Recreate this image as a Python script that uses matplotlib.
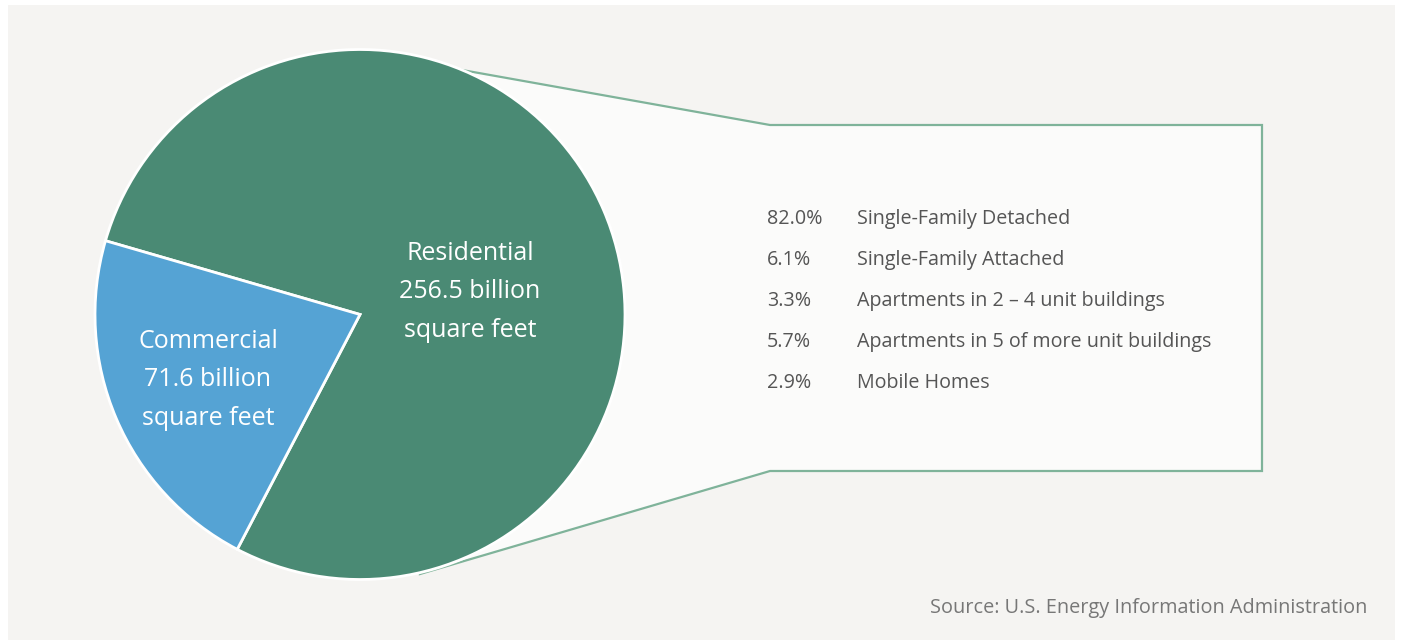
import matplotlib.pyplot as plt
from matplotlib.patches import Rectangle, Polygon

# data
sectors = ["Residential", "Commercial"]
area_bsf = [256.5, 71.6]
sector_colors = ["#4a8a74", "#55a3d4"]

res_shares = ["82.0%", "6.1%", "3.3%", "5.7%", "2.9%"]
res_types = ["Single-Family Detached", "Single-Family Attached",
             "Apartments in 2 \u2013 4 unit buildings",
             "Apartments in 5 of more unit buildings", "Mobile Homes"]

W, H = 1401, 640
fig = plt.figure(figsize=(W / 100, H / 100), dpi=100, facecolor="white")
ax = fig.add_axes([0, 0, 1, 1])
ax.set_xlim(0, W)
ax.set_ylim(0, H)
ax.set_aspect("equal")
ax.axis("off")

font = ["Open Sans", "DejaVu Sans"]

# grey panel
ax.add_patch(Rectangle((8, 0), 1387, 635, facecolor="#f5f4f2", edgecolor="none", zorder=0))

# callout box
callout = Polygon([(462, 570), (770, 515), (1262, 515), (1262, 169), (770, 169), (420, 66)],
                  closed=True, facecolor="#fbfbfa", edgecolor="#7fb39a", lw=1.6, zorder=1)
ax.add_patch(callout)

cx, cy, r = 360, 325.5, 265
wedges, _ = ax.pie(area_bsf, colors=sector_colors, startangle=242.4, counterclock=True,
                   center=(cx, cy), radius=r, frame=True,
                   wedgeprops=dict(edgecolor="white", linewidth=2))
for w in wedges:
    w.set_zorder(2)
ax.set_xlim(0, W)
ax.set_ylim(0, H)
ax.axis("off")

ax.text(470, H - 292, f"{sectors[0]}\n{area_bsf[0]} billion\nsquare feet", color="white",
        ha="center", va="center", fontsize=18, family=font, linespacing=1.72, zorder=3)
ax.text(208, H - 380, f"{sectors[1]}\n{area_bsf[1]} billion\nsquare feet", color="white",
        ha="center", va="center", fontsize=18, family=font, linespacing=1.72, zorder=3)

for i, (s, t) in enumerate(zip(res_shares, res_types)):
    y = H - (219 + 41 * i)
    ax.text(767, y, s, color="#555555", ha="left", va="center", fontsize=14.2, family=font, zorder=3)
    ax.text(857, y, t, color="#555555", ha="left", va="center", fontsize=14.2, family=font, zorder=3)

ax.text(1367, H - 608, "Source: U.S. Energy Information Administration", color="#777777",
        ha="right", va="center", fontsize=14.3, family=font, zorder=3)

fig.savefig("out.png", dpi=100, facecolor=fig.get_facecolor())
